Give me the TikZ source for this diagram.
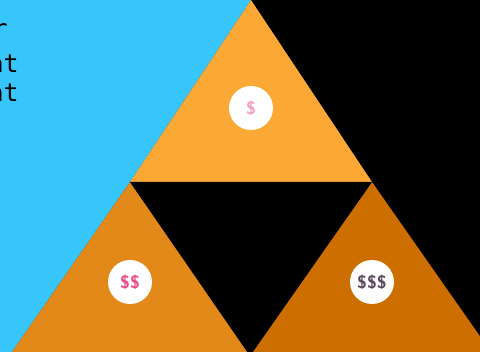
\documentclass[tikz,border=0pt]{standalone}
\usepackage{fontspec}
\setmainfont{Liberation Sans}
\setmonofont{DejaVu Sans Mono}
\definecolor{skyblue}{HTML}{36C6FB}
\definecolor{toporange}{HTML}{FBA834}
\definecolor{leftorange}{HTML}{E2891A}
\definecolor{rightorange}{HTML}{CC6F00}
\definecolor{paleprice}{HTML}{F2A2BA}
\definecolor{pinkprice}{HTML}{EA4A86}
\definecolor{greyprice}{HTML}{5C4B5C}
\tikzset{
  price/.style={circle,fill=white,minimum size=44pt,inner sep=0pt,font=\sffamily\bfseries\fontsize{18}{18}\selectfont},
  side/.style={anchor=base east,inner sep=0pt,font=\ttfamily\fontsize{25}{25}\selectfont}
}

\begin{document}
\begin{tikzpicture}[x=1pt,y=-1pt]
  \useasboundingbox (0,0) rectangle (480,352);
  \clip (0,0) rectangle (480,352);
  % Background: blue left of the big triangle, black right of it.
  \fill[black] (0,0) rectangle (480,352);
  \fill[skyblue] (0,0) -- (251,0) -- (130,182) -- (5,362) -- (0,362) -- cycle;
  % Cut-off text on the left edge.
  \node[side] (line1) at (8,38) {r};
  \node[side] (line2) at (19,73) {at};
  \node[side] (line3) at (19,102) {at};
  % Three triangles, the middle one left black.
  \coordinate (apex) at (251,0);
  \coordinate (ml) at (130,182); \coordinate (mr) at (372,182);
  \fill[toporange] (apex) -- (ml) -- (mr) -- cycle;
  \fill[leftorange] (ml) -- (5,362) -- (258,362) -- cycle;
  \fill[rightorange] (mr) -- (242,362) -- (498,362) -- cycle;
  \fill[black] (ml) -- (mr) -- (250,356) -- cycle;
  % Price badges.
  \node[price,text=paleprice] (cheap) at (251,108) {\$};
  \node[price,text=pinkprice] (mid) at (130,282) {\$\$};
  \node[price,text=greyprice] (dear) at (372,282) {\$\$\$};
\end{tikzpicture}
\end{document}
